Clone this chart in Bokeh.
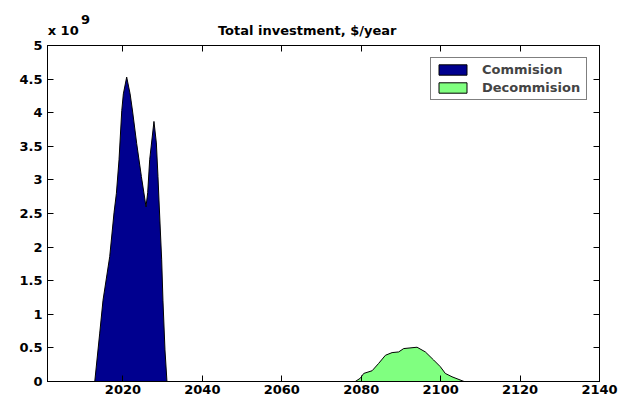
from bokeh.plotting import figure
from bokeh.models import (ColumnDataSource, Range1d, FixedTicker, LinearAxis,
                          NumeralTickFormatter)
from bokeh.embed import file_html
from bokeh.resources import INLINE

# ---- data (values in units of 1e9 $/year) ----
commission_years = [2001, 2012.9, 2014.15, 2014.98, 2016.67, 2017.75, 2018.35, 2019.01,
                    2019.7, 2020.1, 2020.94, 2021.8, 2022.38, 2023.46, 2024.64, 2025.55,
                    2025.8, 2026.23, 2026.73, 2027.81, 2028.41, 2028.82, 2029.07, 2029.75,
                    2030.07, 2030.58, 2031.08, 2140]
commission_values = [0, 0, 0.72, 1.21, 1.86, 2.51, 2.80, 3.30,
                     4.03, 4.28, 4.53, 4.28, 4.04, 3.54, 3.05, 2.70,
                     2.60, 2.81, 3.30, 3.87, 3.55, 3.05, 2.70, 1.81,
                     1.21, 0.47, 0, 0]

decommission_years = [2001, 2078.5, 2079.8, 2080.63, 2082.74, 2084.4, 2086.09, 2087.77,
                      2089.43, 2090.69, 2094.06, 2096.15, 2098.23, 2099.92, 2101.17,
                      2102.86, 2105.9, 2140]
decommission_values = [0, 0, 0.05, 0.12, 0.16, 0.27, 0.39, 0.43,
                       0.44, 0.49, 0.51, 0.44, 0.32, 0.22, 0.12,
                       0.07, 0, 0]

x_ticks = [2020, 2040, 2060, 2080, 2100, 2120, 2140]
y_ticks = [0, 0.5, 1, 1.5, 2, 2.5, 3, 3.5, 4, 4.5, 5]

title_text = "Total investment, $/year"
exponent_base = "x 10"
exponent_power = "9"
series_names = ["Commision", "Decommision"]
series_colors = ["#00008F", "#80FF80"]

FONT = "DejaVu Sans"
FS = "13px"

p = figure(width=624, height=403, output_backend="svg", toolbar_location=None,
           x_range=Range1d(2001, 2140), y_range=Range1d(0, 5),
           min_border_left=47, min_border_right=25, min_border_top=45,
           min_border_bottom=22)
p.title.text = ""
p.xgrid.visible = False
p.ygrid.visible = False
p.outline_line_color = "black"
p.background_fill_color = "white"
p.border_fill_color = "white"

src_c = ColumnDataSource(dict(x=commission_years, y=commission_values))
src_d = ColumnDataSource(dict(x=decommission_years, y=decommission_values))
p.patch("x", "y", source=src_c, fill_color=series_colors[0], line_color="black",
        line_width=1, legend_label=series_names[0])
p.patch("x", "y", source=src_d, fill_color=series_colors[1], line_color="black",
        line_width=1, legend_label=series_names[1])

def style_axis(ax, labels=True):
    ax.axis_line_color = "black"
    ax.major_tick_line_color = "black"
    ax.major_tick_in = 6
    ax.major_tick_out = 0
    ax.minor_tick_line_color = None
    if labels:
        ax.major_label_text_font = FONT
        ax.major_label_text_font_style = "bold"
        ax.major_label_text_font_size = FS
        ax.major_label_text_color = "black"
    else:
        ax.major_label_text_font_size = "0px"
        ax.major_label_text_color = None
        ax.major_label_standoff = 0

p.xaxis.ticker = FixedTicker(ticks=x_ticks)
p.xaxis.formatter = NumeralTickFormatter(format="0")
p.xaxis.major_label_standoff = 3
p.yaxis.ticker = FixedTicker(ticks=y_ticks)
p.yaxis.formatter = NumeralTickFormatter(format="0.[0]")
p.yaxis.major_label_standoff = 5
style_axis(p.xaxis[0])
style_axis(p.yaxis[0])

ax_r = LinearAxis(ticker=FixedTicker(ticks=y_ticks))
style_axis(ax_r, labels=False)
p.add_layout(ax_r, "right")
ax_t = LinearAxis(ticker=FixedTicker(ticks=x_ticks))
style_axis(ax_t, labels=False)
p.add_layout(ax_t, "above")

# header texts (title and exponent) placed as labels of tick-less top axes
title_pos = 2066.4
base_pos = 2004.95
power_pos = 2010.6

def text_axis(ticks, overrides, standoff):
    ax = LinearAxis(ticker=FixedTicker(ticks=ticks))
    ax.axis_line_color = None
    ax.major_tick_line_color = None
    ax.minor_tick_line_color = None
    ax.major_tick_in = 0
    ax.major_tick_out = 0
    ax.major_label_overrides = overrides
    ax.major_label_standoff = standoff
    ax.major_label_text_font = FONT
    ax.major_label_text_font_style = "bold"
    ax.major_label_text_font_size = FS
    ax.major_label_text_color = "black"
    return ax

p.add_layout(text_axis([base_pos, title_pos],
                       {base_pos: exponent_base, title_pos: title_text}, 8), "above")
p.add_layout(text_axis([power_pos], {power_pos: exponent_power}, -4), "above")

lg = p.legend[0]
lg.location = "top_right"
lg.margin = 12
lg.border_line_color = "black"
lg.border_line_width = 1
lg.background_fill_color = "white"
lg.background_fill_alpha = 1
lg.glyph_width = 35
lg.glyph_height = 13
lg.label_standoff = 12
lg.label_text_font = FONT
lg.label_text_font_style = "bold"
lg.label_text_font_size = FS
lg.label_height = 13
lg.label_width = 100
lg.spacing = 3
lg.padding = 4

open("out.html", "w").write(file_html(p, INLINE))
